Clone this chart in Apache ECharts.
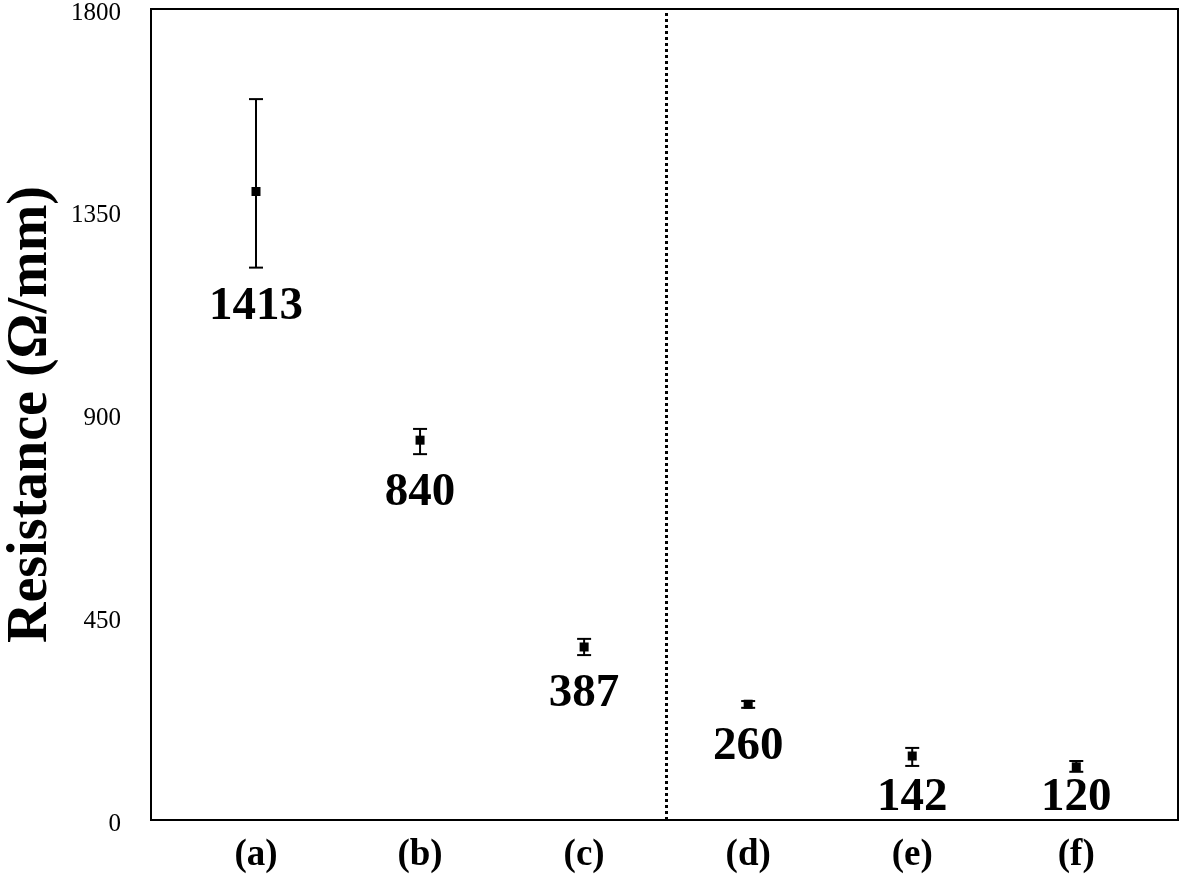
<!DOCTYPE html>
<html><head><meta charset="utf-8">
<script src="https://cdn.jsdelivr.net/npm/echarts@6/dist/echarts.min.js"></script>
<style>html,body{margin:0;padding:0;background:#fff}#c{width:1181px;height:876px}</style>
</head><body><div id="c"></div>
<script>
// Data
var categories = ['(a)', '(b)', '(c)', '(d)', '(e)', '(f)'];
var positions = [1, 2, 3, 4, 5, 6];
var meanValues = [1395, 843, 384, 257, 142, 118];
var errLow = [1226, 812, 366, 249, 120, 107];
var errHigh = [1600, 868, 402, 264, 160, 131];
var labelTexts = ['1413', '840', '387', '260', '142', '120'];
var yTicks = [0, 450, 900, 1350, 1800];
var dividerX = 3.5;

var serif = '"Liberation Serif", "Times New Roman", serif';
var chart = echarts.init(document.getElementById('c'));

var errData = positions.map(function (p, i) { return [p, errLow[i], errHigh[i], i]; });
var ptData = positions.map(function (p, i) { return [p, meanValues[i]]; });

chart.setOption({
  animation: false,
  grid: { left: 151, top: 9, right: 3, bottom: 56, outerBoundsMode: 'none', containLabel: false, show: true, borderColor: '#000', borderWidth: 2, backgroundColor: '#fff' },
  xAxis: {
    type: 'value', min: 0.36, max: 6.62,
    axisLine: { show: true, lineStyle: { color: '#000', width: 2 } },
    axisTick: { show: false },
    splitLine: { show: false },
    axisLabel: {
      customValues: positions,
      formatter: function (v) { var i = positions.indexOf(Math.round(v)); return i >= 0 ? categories[i] : ''; },
      fontFamily: serif, fontWeight: 'bold', fontSize: 37, color: '#000', margin: 17
    }
  },
  yAxis: {
    type: 'value', min: 0, max: 1800, interval: 450,
    name: 'Resistance (Ω/mm)', nameLocation: 'middle', nameGap: 91,
    nameTextStyle: { fontFamily: serif, fontWeight: 'bold', fontSize: 56, color: '#000' },
    axisLine: { show: true, lineStyle: { color: '#000', width: 2 } },
    axisTick: { show: false },
    splitLine: { show: false },
    axisLabel: {
      customValues: yTicks,
      formatter: function (v) { return '{t|' + v + '}'; },
      rich: { t: { fontFamily: serif, fontSize: 25, color: '#000', padding: [8, 0, 0, 0] } },
      fontFamily: serif, fontSize: 25, color: '#000', margin: 30
    }
  },
  series: [
    {
      type: 'custom',
      data: errData,
      encode: { x: 0, y: [1, 2] },
      renderItem: function (params, api) {
        var x = api.value(0);
        var lo = api.coord([x, api.value(1)]);
        var hi = api.coord([x, api.value(2)]);
        var base = api.coord([x, 0]);
        var idx = api.value(3);
        var cw = 7;
        var st = { stroke: '#000', lineWidth: 2 };
        var ly = Math.min(lo[1] + 39, base[1] - 22);
        return {
          type: 'group',
          children: [
            { type: 'line', shape: { x1: hi[0], y1: hi[1], x2: lo[0], y2: lo[1] }, style: st },
            { type: 'line', shape: { x1: hi[0] - cw, y1: hi[1], x2: hi[0] + cw, y2: hi[1] }, style: st },
            { type: 'line', shape: { x1: lo[0] - cw, y1: lo[1], x2: lo[0] + cw, y2: lo[1] }, style: st },
            { type: 'text', x: lo[0], y: ly, style: { text: labelTexts[idx], fill: '#000', font: 'bold 47px ' + serif, align: 'center', verticalAlign: 'middle' } }
          ]
        };
      },
      z: 3
    },
    {
      type: 'scatter',
      data: ptData,
      symbol: 'rect', symbolSize: 9,
      itemStyle: { color: '#000', opacity: 1 },
      z: 4,
      markLine: {
        silent: true, symbol: 'none', label: { show: false },
        lineStyle: { color: '#000', type: [3, 3], width: 3 },
        data: [{ xAxis: dividerX }]
      }
    }
  ]
});
</script>
</body></html>
